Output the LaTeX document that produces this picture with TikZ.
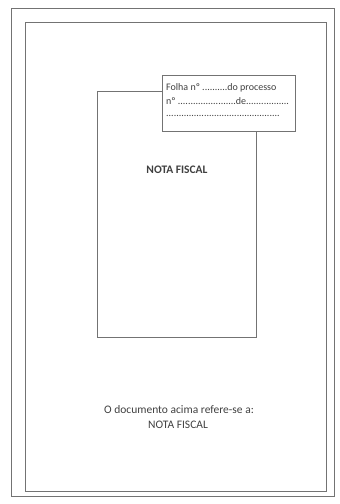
\documentclass[tikz,border=0pt]{standalone}
\usepackage{fontspec}
\setmainfont{Carlito}
\begin{document}
\begin{tikzpicture}[x=1pt,y=-1pt]
		\tikzset{frame/.style = {draw=black!55, line width=1pt},
			label/.style = {inner sep=0pt, text=black!75, font=\fontsize{11.5}{13}\selectfont},
			folha/.style = {inner sep=0pt, anchor=west, text=black!75, font=\fontsize{10}{11}\selectfont}}

		\useasboundingbox (0,0) rectangle (340,504);

		\draw[frame] (11,8) rectangle (334,496);
		\draw[frame] (25,22) rectangle (326,491);

		\draw[frame, line width=0.9pt] (97,91) rectangle (256,337);

		\node[label, font=\bfseries\fontsize{11.5}{13}\selectfont] (nota) at (177,170) {NOTA FISCAL};

		\node[frame, line width=0.9pt, fill=white, minimum width=133pt, minimum height=56pt, inner sep=0pt] (box) at (228.5,103) {};
		\node[folha] (l1) at (166,88) {Folha nº ..........do processo};
		\node[folha] (l2) at (166,101) {nº .......................de.................};
		\node[folha] (l3) at (166,116) {.............................................};

		\node[label] (ref) at (179,410) {O documento acima refere-se a:};
		\node[label] (tipo) at (178,425) {NOTA FISCAL};

	\end{tikzpicture}
\end{document}
